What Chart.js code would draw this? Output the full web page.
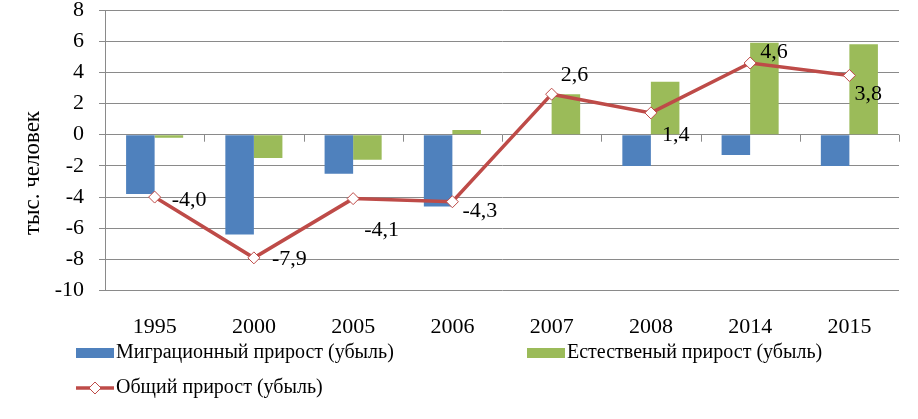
<!DOCTYPE html>
<html>
<head>
<meta charset="utf-8">
<script src="https://cdn.jsdelivr.net/npm/chart.js@4.4.1/dist/chart.umd.min.js"></script>
<style>
  html, body { margin: 0; padding: 0; background: #ffffff; }
  #wrap { position: relative; width: 918px; height: 419px; }
</style>
</head>
<body>
<div id="wrap"><canvas id="c" width="918" height="419"></canvas></div>
<script>
const categories = ['1995', '2000', '2005', '2006', '2007', '2008', '2014', '2015'];
const migration = [-3.8, -6.4, -2.5, -4.6, 0.0, -2.0, -1.3, -2.0];
const natural   = [-0.2, -1.5, -1.6, 0.3, 2.6, 3.4, 5.9, 5.8];
const total     = [-4.0, -7.9, -4.1, -4.3, 2.6, 1.4, 4.6, 3.8];
const seriesNames = ['Миграционный прирост (убыль)', 'Естественый прирост (убыль)', 'Общий прирост (убыль)'];
const yTitle = 'тыс. человек';

const FONT = "'Liberation Serif', 'Times New Roman', serif";
const GRID = '#8a8a8a';

const fmt = v => v.toFixed(1).replace('.', ',');

const labelPlugin = {
  id: 'pointLabels',
  afterDatasetsDraw(chart, args, opts) {
    const ctx = chart.ctx;
    const meta = chart.getDatasetMeta(2);
    ctx.save();
    ctx.font = opts.font;
    ctx.fillStyle = '#000';
    ctx.textAlign = 'left';
    ctx.textBaseline = 'middle';
    meta.data.forEach((pt, i) => {
      const off = opts.offsets[i];
      ctx.fillText(fmt(chart.data.datasets[2].data[i]), pt.x + off[0], pt.y + off[1]);
    });
    ctx.restore();
  }
};

const axisDecor = {
  id: 'axisDecor',
  beforeDatasetsDraw(chart) {
    const ctx = chart.ctx;
    const x = chart.scales.x, y = chart.scales.y;
    const y0 = y.getPixelForValue(0);
    const half = (x.getPixelForValue(1) - x.getPixelForValue(0)) / 2;
    ctx.save();
    ctx.strokeStyle = GRID;
    ctx.lineWidth = 1;
    ctx.beginPath();
    for (let i = 0; i < categories.length; i++) {
      const px = Math.round(x.getPixelForValue(i) + half) + 0.5;
      ctx.moveTo(px, y0);
      ctx.lineTo(px, y0 + 7);
    }
    ctx.stroke();
    ctx.restore();
  },
  afterDraw(chart) {
    const ctx = chart.ctx;
    ctx.save();
    // y axis title
    ctx.font = "23px " + FONT;
    ctx.fillStyle = '#000';
    ctx.translate(33, 173);
    ctx.rotate(-Math.PI / 2);
    ctx.textAlign = 'center';
    ctx.textBaseline = 'middle';
    ctx.fillText(yTitle, 0, 0);
    ctx.restore();

    // legend
    const ds = chart.data.datasets;
    ctx.save();
    ctx.font = "20px " + FONT;
    ctx.textBaseline = 'middle';
    ctx.textAlign = 'left';
    const items = [
      { ds: ds[0], x: 76, y: 353, kind: 'box' },
      { ds: ds[1], x: 527, y: 353, kind: 'box' },
      { ds: ds[2], x: 76, y: 388, kind: 'line' }
    ];
    items.forEach(it => {
      if (it.kind === 'box') {
        ctx.fillStyle = it.ds.backgroundColor;
        ctx.fillRect(it.x, it.y - 5, 38, 10);
      } else {
        ctx.strokeStyle = it.ds.borderColor;
        ctx.lineWidth = 3.5;
        ctx.beginPath();
        ctx.moveTo(it.x, it.y);
        ctx.lineTo(it.x + 38, it.y);
        ctx.stroke();
        const cx = it.x + 19, r = 6;
        ctx.beginPath();
        ctx.moveTo(cx, it.y - r);
        ctx.lineTo(cx + r, it.y);
        ctx.lineTo(cx, it.y + r);
        ctx.lineTo(cx - r, it.y);
        ctx.closePath();
        ctx.fillStyle = '#fff';
        ctx.fill();
        ctx.lineWidth = 1;
        ctx.stroke();
      }
      ctx.fillStyle = '#000';
      ctx.fillText(it.ds.label, it.x + 40, it.y);
    });
    ctx.restore();
  }
};

new Chart(document.getElementById('c'), {
  data: {
    labels: categories,
    datasets: [
      { type: 'bar', label: seriesNames[0], data: migration, backgroundColor: '#4F81BD', order: 2,
        categoryPercentage: 0.575, barPercentage: 1.0 },
      { type: 'bar', label: seriesNames[1], data: natural, backgroundColor: '#9BBB59', order: 2,
        categoryPercentage: 0.575, barPercentage: 1.0 },
      { type: 'line', label: seriesNames[2], data: total, borderColor: '#BE4B48', borderWidth: 3.5,
        pointStyle: 'rectRot', pointRadius: 6, pointBackgroundColor: '#ffffff', pointBorderColor: '#BE4B48',
        pointBorderWidth: 1, tension: 0, order: 0 }
    ]
  },
  options: {
    responsive: false,
    animation: false,
    events: [],
    layout: { padding: { left: 0, right: 19, top: 10, bottom: 56 } },
    plugins: {
      legend: { display: false },
      tooltip: { enabled: false },
      pointLabels: {
        font: "22px " + FONT,
        offsets: [[17, 3], [18, 1], [11, 32], [10, 9], [9, -19], [11, 22], [10, -11], [5, 19]]
      }
    },
    scales: {
      x: {
        grid: { display: false, drawTicks: false },
        border: { display: false },
        ticks: { font: { family: FONT, size: 22, lineHeight: 1.2 }, color: '#000', padding: 23, maxRotation: 0 }
      },
      y: {
        min: -10, max: 8,
        ticks: { stepSize: 2, font: { family: FONT, size: 22, lineHeight: 1.0 }, color: '#000', padding: 15 },
        grid: { color: GRID, lineWidth: 1, tickLength: 6, drawTicks: true },
        border: { display: true, color: GRID, width: 1 },
        afterFit(scale) { scale.width = 105; scale.paddingTop = 0; scale.paddingBottom = 0; }
      }
    }
  },
  plugins: [axisDecor, labelPlugin]
});
</script>
</body>
</html>
